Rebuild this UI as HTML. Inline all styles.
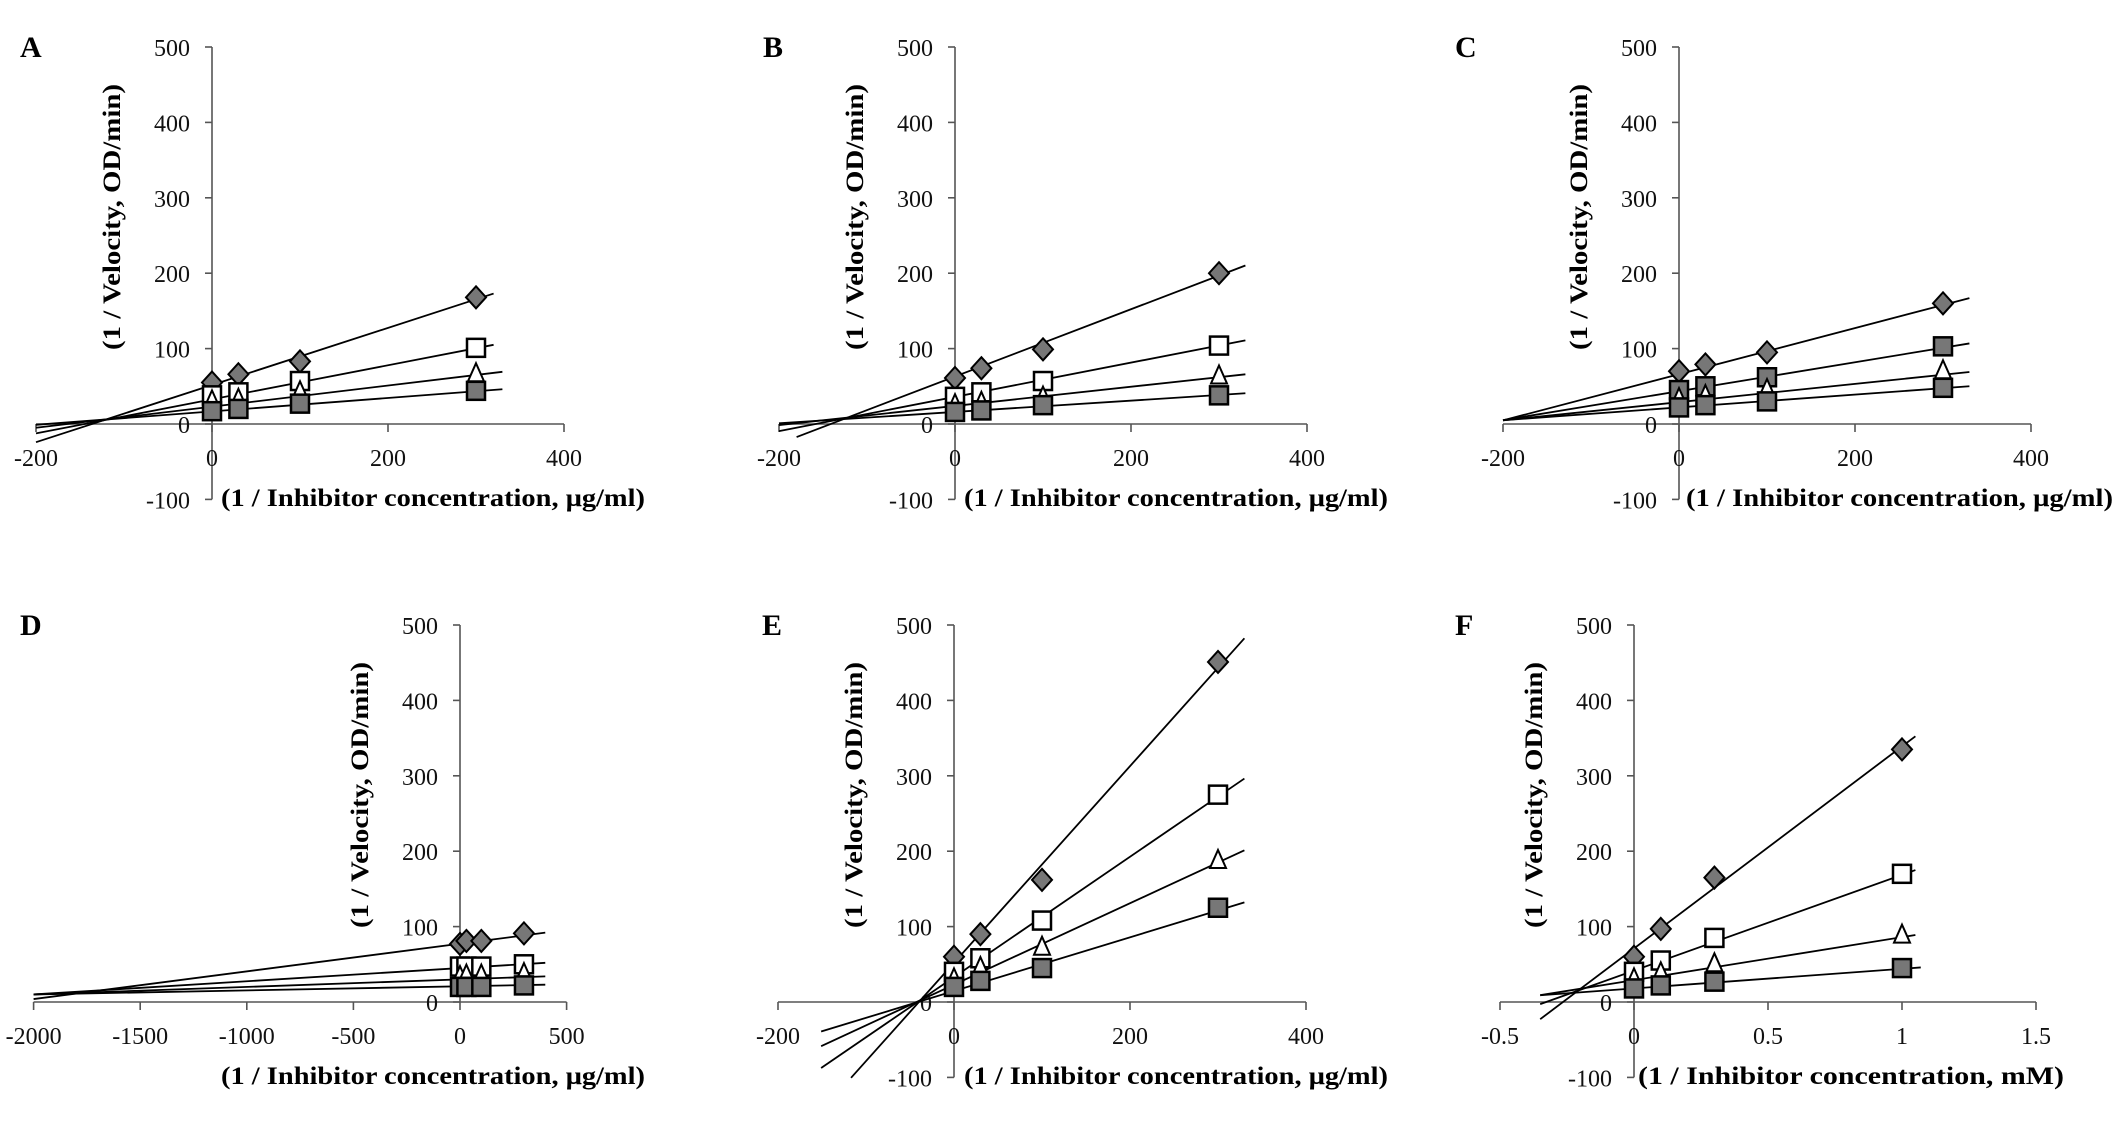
<!DOCTYPE html>
<html><head><meta charset="utf-8">
<style>
html,body{margin:0;padding:0;background:#fff;}
svg{display:block;}
text{font-family:"Liberation Serif",serif;}
</style></head>
<body>
<svg id="fig" width="2126" height="1123" viewBox="0 0 2126 1123" xmlns="http://www.w3.org/2000/svg"></svg>
<script>
// ---- data ----
const panelLetters = ["A","B","C","D","E","F"];
const xValsUg = [0, 30, 100, 300];
const xValsMM = [0, 0.1, 0.3, 1];
const xTicksUg = [-200, 0, 200, 400];
const xTicksD = [-2000, -1500, -1000, -500, 0, 500];
const xTicksF = [-0.5, 0, 0.5, 1, 1.5];
const yTicks = [-100, 0, 100, 200, 300, 400, 500];
const yTicksD = [0, 100, 200, 300, 400, 500];
const seriesNames = ["diamond","open-square","triangle","filled-square"];

// points per panel: [diamond, open, triangle, filled]
const ptsA = [[55,66,83,168],[38,42,57,101],[30,32,42,66],[17,20,27,44]];
const ptsB = [[61,74,99,200],[36,42,57,104],[25,28,35,63],[16,18,25,38]];
const ptsC = [[70,79,95,160],[45,50,62,103],[33,37,45,70],[22,25,30,48]];
const ptsD = [[77,81,81,91],[47,47,47,50],[33,35,35,37],[20,20,20,22]];
const ptsE = [[60,90,162,451],[40,58,108,275],[30,45,72,187],[20,28,45,125]];
const ptsF = [[60,97,165,335],[40,55,85,170],[30,38,50,88],[18,22,27,45]];

// fitted lines: slopes & intercepts
const slopeA = [0.379,0.226,0.14,0.089],  intA = [51.7,32.7,23,16.7];
const slopeB = [0.446,0.227,0.127,0.075], intB = [63,36,24,16];
const slopeC = [0.306,0.192,0.121,0.085], intC = [66,43.5,29,22];
const slopeD = [0.0367,0.0175,0.01,0.0054], intD = [77.3,45,30,20.8];
const slopeE = [1.304,0.798,0.54,0.356],  intE = [52,33,23,14.6];
const slopeF = [268,127,57,26],           intF = [71,41.6,29,18];
const lineStartA = [-200,-200,-200,-200], lineEndA = [320,320,330,330];
const lineStartB = [-180,-200,-200,-200], lineEndB = [330,330,330,330];
const lineStartC = [-200,-200,-200,-200], lineEndC = [330,330,330,330];
const lineStartD = [-2000,-2000,-2000,-2000], lineEndD = [400,400,400,400];
const lineStartE = [-117,-151,-151,-151], lineEndE = [330,330,330,330];
const lineStartF = [-0.35,-0.35,-0.35,-0.35], lineEndF = [1.05,1.05,1.05,1.07];

const NS="http://www.w3.org/2000/svg";
const svg=document.getElementById('fig');
function mk(tag,attrs,parent){const e=document.createElementNS(NS,tag);for(const k in attrs)e.setAttribute(k,attrs[k]);(parent||svg).appendChild(e);return e;}

const panels=[
 {L:0,ax:212,y0:424,ppu:0.88,xt:xTicksUg,yt:yTicks,xv:xValsUg,pts:ptsA,sl:slopeA,ic:intA,ls:lineStartA,le:lineEndA,lx:20,title:"(1 / Inhibitor  concentration, μg/ml)",tx:221,tl:424,openFill:"#fff"},
 {L:1,ax:955,y0:424,ppu:0.88,xt:xTicksUg,yt:yTicks,xv:xValsUg,pts:ptsB,sl:slopeB,ic:intB,ls:lineStartB,le:lineEndB,lx:763,title:"(1 / Inhibitor  concentration, μg/ml)",tx:964,tl:424,openFill:"#fff"},
 {L:2,ax:1679,y0:424,ppu:0.88,xt:xTicksUg,yt:yTicks,xv:xValsUg,pts:ptsC,sl:slopeC,ic:intC,ls:lineStartC,le:lineEndC,lx:1455,title:"(1 / Inhibitor  concentration, μg/ml)",tx:1686,tl:427,openFill:"#777"},
 {L:3,ax:460,y0:1002,ppu:0.2132,xt:xTicksD,yt:yTicksD,xv:xValsUg,pts:ptsD,sl:slopeD,ic:intD,ls:lineStartD,le:lineEndD,lx:20,title:"(1 / Inhibitor  concentration, μg/ml)",tx:221,tl:424,openFill:"#fff"},
 {L:4,ax:954,y0:1002,ppu:0.88,xt:xTicksUg,yt:yTicks,xv:xValsUg,pts:ptsE,sl:slopeE,ic:intE,ls:lineStartE,le:lineEndE,lx:762,title:"(1 / Inhibitor  concentration, μg/ml)",tx:964,tl:424,openFill:"#fff"},
 {L:5,ax:1634,y0:1002,ppu:268,xt:xTicksF,yt:yTicks,xv:xValsMM,pts:ptsF,sl:slopeF,ic:intF,ls:lineStartF,le:lineEndF,lx:1455,title:"(1 / Inhibitor  concentration, mM)",tx:1638,tl:426,openFill:"#fff"}
];
const YPU=0.754;

panels.forEach(p=>{
  const g=mk('g',{});
  
  
  const X=v=>p.ax+v*p.ppu;
  const Y=v=>p.y0-v*YPU;
  // letter
  const lt=mk('text',{x:p.lx,y:p.y0-377+10,'font-size':30,'font-weight':'bold'},g);
  lt.textContent=panelLetters[p.L];
  
  
  // axes
  const xa=mk('line',{x1:X(p.xt[0]),y1:p.y0,x2:X(p.xt[p.xt.length-1]),y2:p.y0,stroke:'#555','stroke-width':1.6},g);
  
  
  const ya=mk('line',{x1:p.ax,y1:Y(p.yt[0]),x2:p.ax,y2:Y(p.yt[p.yt.length-1]),stroke:'#555','stroke-width':1.6},g);
  
  
  p.xt.forEach(t=>{
    mk('line',{x1:X(t),y1:p.y0,x2:X(t),y2:p.y0+8,stroke:'#555','stroke-width':1.6},g);
    const tx=mk('text',{x:X(t),y:p.y0+42,'font-size':24,'text-anchor':'middle',fill:'#111'},g);
    tx.textContent=String(t);
    
    
  });
  p.yt.forEach(t=>{
    mk('line',{x1:p.ax-7,y1:Y(t),x2:p.ax,y2:Y(t),stroke:'#555','stroke-width':1.6},g);
    const tx=mk('text',{x:p.ax-22,y:Y(t)+9,'font-size':24,'text-anchor':'end',fill:'#111'},g);
    tx.textContent=String(t);
    
    
  });
  // titles
  const xt=mk('text',{x:p.tx,y:p.y0+82,'font-size':25,'font-weight':'bold',textLength:p.tl,lengthAdjust:'spacingAndGlyphs'},g);
  xt.textContent=p.title;
  
  
  const cy=p.y0-207, cx=p.ax-101;
  const yt=mk('text',{x:cx,y:cy,'font-size':25,'font-weight':'bold','text-anchor':'middle',textLength:266,lengthAdjust:'spacingAndGlyphs',transform:`rotate(-90 ${cx} ${cy}) translate(0 9)`},g);
  yt.textContent="(1 / Velocity, OD/min)";
  
  
  // lines
  for(let s=0;s<4;s++){
    const a=p.ls[s], b=p.le[s];
    const ln=mk('line',{x1:X(a),y1:Y(p.ic[s]+p.sl[s]*a),x2:X(b),y2:Y(p.ic[s]+p.sl[s]*b),stroke:'#000','stroke-width':1.8},g);
    
    
  }
  // markers
  for(let s=0;s<4;s++){
    p.pts[s].forEach((v,i)=>{
      const cx=X(p.xv[i]), cy=Y(v);
      let m;
      if(s===0){
        m=mk('polygon',{points:`${cx},${cy-11} ${cx+10},${cy} ${cx},${cy+11} ${cx-10},${cy}`,fill:'#777',stroke:'#000','stroke-width':2},g);
      } else if(s===1){
        m=mk('rect',{x:cx-9,y:cy-9,width:18,height:18,fill:p.openFill,stroke:'#000','stroke-width':2.5},g);
      } else if(s===2){
        m=mk('polygon',{points:`${cx},${cy-11} ${cx+8},${cy+7} ${cx-8},${cy+7}`,fill:'#fff',stroke:'#000','stroke-width':2},g);
      } else {
        m=mk('rect',{x:cx-9,y:cy-9,width:18,height:18,fill:'#777',stroke:'#000','stroke-width':2.5},g);
      }
      
      
    });
  }
});
</script>
</body></html>
